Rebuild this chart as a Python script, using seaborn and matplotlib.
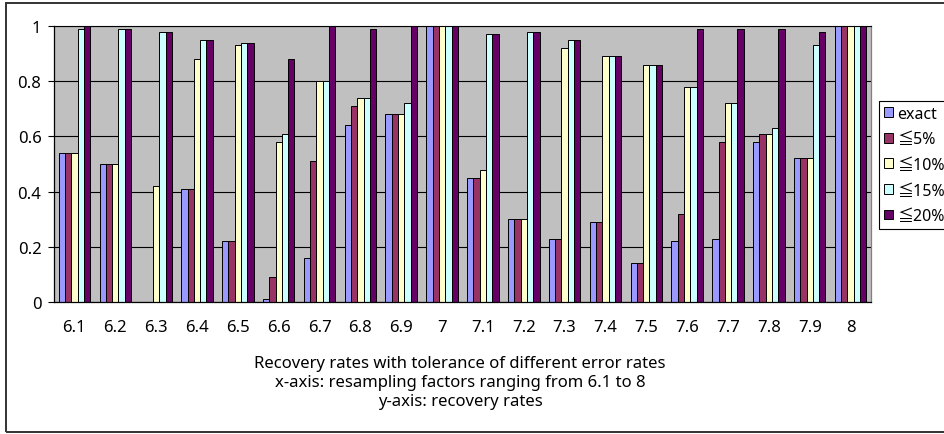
import matplotlib
matplotlib.use("Agg")
import matplotlib.pyplot as plt
from matplotlib.patches import Rectangle, Patch
import seaborn as sns
import pandas as pd

factors = ["6.1", "6.2", "6.3", "6.4", "6.5", "6.6", "6.7", "6.8", "6.9", "7",
           "7.1", "7.2", "7.3", "7.4", "7.5", "7.6", "7.7", "7.8", "7.9", "8"]
series_names = ["exact", "≦5%", "≦10%", "≦15%", "≦20%"]
exact = [0.54, 0.50, 0.00, 0.41, 0.22, 0.01, 0.16, 0.64, 0.68, 1.00,
         0.45, 0.30, 0.23, 0.29, 0.14, 0.22, 0.23, 0.58, 0.52, 1.00]
le5 = [0.54, 0.50, 0.00, 0.41, 0.22, 0.09, 0.51, 0.71, 0.68, 1.00,
       0.45, 0.30, 0.23, 0.29, 0.14, 0.32, 0.58, 0.61, 0.52, 1.00]
le10 = [0.54, 0.50, 0.42, 0.88, 0.93, 0.58, 0.80, 0.74, 0.68, 1.00,
        0.48, 0.30, 0.92, 0.89, 0.86, 0.78, 0.72, 0.61, 0.52, 1.00]
le15 = [0.99, 0.99, 0.98, 0.95, 0.94, 0.61, 0.80, 0.74, 0.72, 1.00,
        0.97, 0.98, 0.95, 0.89, 0.86, 0.78, 0.72, 0.63, 0.93, 1.00]
le20 = [1.00, 0.99, 0.98, 0.95, 0.94, 0.88, 1.00, 0.99, 1.00, 1.00,
        0.97, 0.98, 0.95, 0.89, 0.86, 0.99, 0.99, 0.99, 0.98, 1.00]
y_ticks = [0, 0.2, 0.4, 0.6, 0.8, 1.0]
caption_lines = ["Recovery rates with tolerance of different error rates",
                 "x-axis: resampling factors ranging from 6.1 to 8",
                 "y-axis: recovery rates"]

colors = ["#9999FF", "#993366", "#FFFFCC", "#CCFFFF", "#660066"]

rows = []
for name, vals in zip(series_names, [exact, le5, le10, le15, le20]):
    for f, v in zip(factors, vals):
        rows.append({"factor": f, "tol": name, "rate": v})
df = pd.DataFrame(rows)

plt.rcParams["font.family"] = ["Noto Sans", "Noto Sans CJK TC", "DejaVu Sans"]
FS = 12

W, H = 945, 435
fig = plt.figure(figsize=(W / 100, H / 100), dpi=100)
fig.patch.set_facecolor("white")
ax = fig.add_axes([54 / W, 1 - 303 / H, (871 - 54) / W, (303 - 27) / H])
ax.set_facecolor("#C0C0C0")

sns.barplot(data=df, x="factor", y="rate", hue="tol", order=factors,
            hue_order=series_names, palette=colors, width=0.77, gap=0,
            edgecolor="black", linewidth=0.7, ax=ax, legend=False,
            errorbar=None, saturation=1)

ax.set_xlim(-0.5, len(factors) - 0.5)
ax.set_ylim(0, 1)
ax.set_yticks(y_ticks)
ax.set_yticklabels([f"{v:g}" for v in y_ticks])
ax.set_xlabel("")
ax.set_ylabel("")
ax.set_axisbelow(True)
ax.yaxis.grid(True, color="black", linewidth=0.8)
ax.xaxis.grid(False)
ax.tick_params(axis="x", length=0, pad=12, labelsize=FS)
ax.tick_params(axis="y", length=4, width=0.8, pad=5, labelsize=FS, direction="out")
for s in ["left", "bottom"]:
    ax.spines[s].set_color("black")
    ax.spines[s].set_linewidth(0.9)
ax.spines["top"].set_color("black")
ax.spines["top"].set_linewidth(0.8)
ax.spines["right"].set_color("#808080")
ax.spines["right"].set_linewidth(0.9)

handles = [Patch(facecolor=c, edgecolor="black", linewidth=0.7) for c in colors]
leg = fig.legend(handles, series_names, loc="upper left",
                 bbox_to_anchor=(879 / W, 1 - 102 / H), frameon=True, fancybox=False,
                 edgecolor="black", framealpha=1, borderaxespad=0, borderpad=0.3,
                 handlelength=0.55, handleheight=0.55, handletextpad=0.3,
                 labelspacing=0.6, fontsize=11.5)
leg.get_frame().set_linewidth(0.8)

cx = 460 / W
for line, yc in zip(caption_lines, [364, 383, 402]):
    fig.text(cx, 1 - yc / H, line, ha="center", va="center", fontsize=FS)

fig.add_artist(Rectangle((6 / W, 2 / H), (W + 10) / W, (431 - 2) / H,
                         transform=fig.transFigure, fill=False,
                         edgecolor="#333333", linewidth=1.4))

fig.savefig("out.png", dpi=100)
